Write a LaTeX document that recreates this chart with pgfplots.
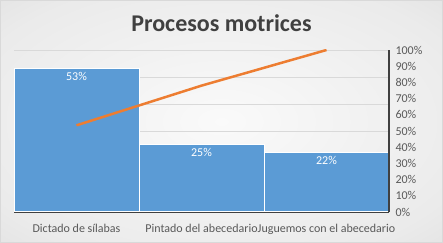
\documentclass[border=0pt]{standalone}
\usepackage{pgfplots}
\pgfplotsset{compat=1.18}
\usepackage{fontspec}
\setmainfont{Carlito}
\definecolor{barblue}{HTML}{5B9BD5}
\definecolor{lineorange}{HTML}{ED7D31}
\definecolor{txt}{HTML}{595959}
\definecolor{axl}{HTML}{404040}
\definecolor{gridc}{HTML}{D9D9D9}
\pgfdeclareradialshading{bgshade}{\pgfpoint{0bp}{0bp}}{color(0bp)=(black!2); color(30bp)=(black!8); color(50bp)=(black!16); color(71bp)=(black!24)}
\begin{document}
\begin{tikzpicture}
\useasboundingbox (0,0) rectangle (443bp,243bp);
\shade[shading=bgshade] (0,0) rectangle (443bp,243bp);
\draw[gridc, line width=0.75bp] (0.4bp,0.4bp) rectangle (442.6bp,242.6bp);
\node[font=\fontsize{24bp}{28bp}\selectfont\bfseries, text=axl] at (221.5bp,220bp) {Procesos motrices};
\begin{axis}[at={(14bp,31bp)}, anchor=south west, scale only axis,
  width=375bp, height=162bp,
  xmin=-0.5, xmax=2.5, ymin=0, ymax=60,
  ybar, bar width=1, 
  ytick={0,10,...,60}, yticklabels={},
  ymajorgrids, grid style={gridc, line width=0.75bp},
  axis x line*=bottom, axis y line*=left,
  x axis line style={axl, line width=1.75bp, -},
  y axis line style={draw=none},
  xtick={0,1,2},
  xticklabels={Dictado de sílabas, Pintado del abecedario, Juguemos con el abecedario},
  xtick style={draw=none}, ytick style={draw=none},
  xticklabel style={font=\fontsize{12bp}{14bp}\selectfont, text=txt, yshift=-4bp},
  /pgf/number format/assume math mode=true,
  nodes near coords={\pgfmathprintnumber{\pgfplotspointmeta}\%},
  every node near coord/.append style={anchor=north, text=white, font=\fontsize{12bp}{14bp}\selectfont, inner sep=3bp},
]
\addplot[fill=barblue, draw=white, line width=1bp] coordinates {(0,53) (1,25) (2,22)};
\end{axis}
\begin{axis}[at={(14bp,31bp)}, anchor=south west, scale only axis,
  width=375bp, height=162bp,
  xmin=-0.5, xmax=2.5, ymin=0, ymax=100,
  axis y line*=right, axis x line=none,
  ytick={0,10,...,100},
  yticklabel={\pgfmathprintnumber{\tick}\%},
  /pgf/number format/assume math mode=true,
  y axis line style={axl, line width=1.75bp, -},
  ytick style={draw=none},
  yticklabel style={font=\fontsize{12bp}{14bp}\selectfont, text=txt, xshift=3bp},
]
\addplot[lineorange, line width=2.5bp] coordinates {(0,53.5) (1,78) (2,100)};
\end{axis}
\end{tikzpicture}
\end{document}
